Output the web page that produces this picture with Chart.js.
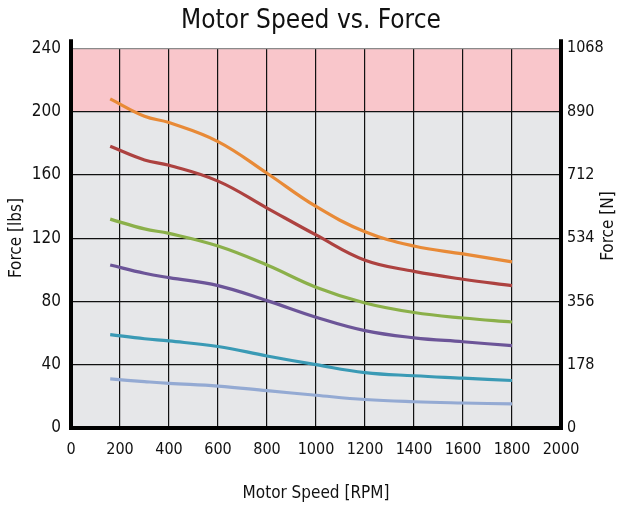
<!DOCTYPE html>
<html lang="en">
  <head>
    <meta charset="UTF-8" />
    <title>Motor Speed vs. Force</title>
    <script src="https://cdn.jsdelivr.net/npm/chart.js"></script>
    <style>
      html, body { margin: 0; padding: 0; background: #fff; }
      #wrap { width: 622px; height: 510px; }
    </style>
  </head>
  <body>
    <div id="wrap"><canvas id="forceChart" width="622" height="510"></canvas></div>

    <script>
      // speeds (RPM) where each curve was read
      const rpm = [160, 300, 400, 600, 800, 1000, 1200, 1400, 1600, 1800];

      // force in lbs, one array per curve (top to bottom)
      const orangeForce = [208, 197, 193, 181, 161, 140, 124, 115, 110, 105];
      const redForce = [178, 169.4, 166, 156, 139, 122, 106, 99, 94, 90];
      const greenForce = [132, 125.8, 123, 115, 103, 89, 79, 73, 69.5, 67];
      const purpleForce = [103, 97.8, 95, 90, 80.5, 70, 61.5, 57, 54.5, 52];
      const tealForce = [59, 56.4, 55, 51.5, 45.5, 40, 35, 33, 31.5, 30];
      const blueForce = [31, 29.3, 28.2, 26.5, 23.6, 20.7, 18, 16.6, 15.8, 15.2];

      // axis ranges / tick labels
      const xTicks = [0, 2000, 200];
      const lbsTicks = [0, 240, 40];
      const newtonLabels = ["0", "178", "356", "534", "712", "890", "1068"];
      const redZone = [200, 240];

      const FONT = "'Liberation Sans Narrow', 'DejaVu Sans Condensed', sans-serif";

      const toPoints = (ys) => rpm.map((x, i) => ({ x: x, y: ys[i] }));

      const curve = (data, color) => ({
        data: toPoints(data),
        borderColor: color,
        borderWidth: 3.2,
        pointRadius: 0,
        fill: false,
        tension: 0.4,
        yAxisID: "y",
      });

      // grey plot area, pink band, thick axis lines, right title
      const decor = {
        id: "decor",
        beforeDraw(chart) {
          const { ctx, chartArea: a, scales } = chart;
          ctx.save();
          ctx.fillStyle = "#e6e7e9";
          ctx.fillRect(a.left, a.top, a.right - a.left, a.bottom - a.top);
          const y1 = scales.y.getPixelForValue(redZone[1]);
          const y0 = scales.y.getPixelForValue(redZone[0]);
          ctx.fillStyle = "#f9c6cb";
          ctx.fillRect(a.left, y1, a.right - a.left, y0 - y1);
          ctx.restore();
        },
        afterDraw(chart) {
          const { ctx, chartArea: a } = chart;
          ctx.save();
          ctx.strokeStyle = "#000";
          ctx.lineWidth = 4;
          ctx.beginPath();
          ctx.moveTo(a.left, a.top - 9);
          ctx.lineTo(a.left, a.bottom);
          ctx.lineTo(a.right, a.bottom);
          ctx.lineTo(a.right, a.top - 9);
          ctx.stroke();

          ctx.fillStyle = "#111";
          ctx.font = "17px " + FONT;
          ctx.textAlign = "center";
          ctx.textBaseline = "middle";
          ctx.translate(609, (a.top + a.bottom) / 2 - 12);
          ctx.rotate(-Math.PI / 2);
          ctx.fillText("Force [N]", 0, 0);
          ctx.restore();
        },
      };

      const gridColor = (ctx) => {
        const v = ctx.tick && ctx.tick.value;
        return v === 240 ? "#8a8a8a" : "#111";
      };

      const ctx = document.getElementById("forceChart").getContext("2d");
      new Chart(ctx, {
        type: "line",
        data: {
          datasets: [
            curve(orangeForce, "#e88a37"),
            curve(redForce, "#ad4240"),
            curve(greenForce, "#8bb04a"),
            curve(purpleForce, "#6c5598"),
            curve(tealForce, "#3a9ab5"),
            curve(blueForce, "#94aad3"),
          ],
        },
        options: {
          responsive: false,
          animation: false,
          layout: { padding: 0 },
          plugins: {
            legend: { display: false },
            tooltip: { enabled: false },
            title: {
              display: true,
              text: "Motor Speed vs. Force",
              color: "#111",
              font: { family: FONT, size: 26, weight: "normal" },
              padding: { top: 6, bottom: 11 },
            },
          },
          scales: {
            x: {
              type: "linear",
              min: xTicks[0],
              max: xTicks[1],
              ticks: {
                stepSize: xTicks[2],
                autoSkip: false,
                color: "#111",
                padding: 12,
                maxRotation: 0,
                font: { family: FONT, size: 16 },
                callback: (v) => String(v),
              },
              grid: { color: "#111", lineWidth: 1.2, drawTicks: false },
              border: { display: false },
              title: {
                display: true,
                text: "Motor Speed [RPM]",
                color: "#111",
                font: { family: FONT, size: 17 },
                padding: { top: 22, bottom: 6 },
              },
              afterFit(s) { s.height = 82; },
            },
            y: {
              position: "left",
              min: lbsTicks[0],
              max: lbsTicks[1],
              ticks: {
                stepSize: lbsTicks[2],
                color: "#111",
                padding: 10,
                font: { family: FONT, size: 17 },
              },
              grid: { color: gridColor, lineWidth: 1.2, drawTicks: false },
              border: { display: false },
              title: {
                display: true,
                text: "Force [lbs]",
                color: "#111",
                font: { family: FONT, size: 17 },
                padding: { top: 6, bottom: 0 },
              },
              afterFit(s) { s.width = 71; },
            },
            y2: {
              position: "right",
              min: lbsTicks[0],
              max: lbsTicks[1],
              ticks: {
                stepSize: lbsTicks[2],
                color: "#111",
                padding: 6,
                font: { family: FONT, size: 16 },
                callback: (v, i) => newtonLabels[i],
              },
              grid: { display: false, drawTicks: false },
              border: { display: false },
              afterFit(s) { s.width = 61; },
            },
          },
        },
        plugins: [decor],
      });
    </script>
  </body>
</html>
